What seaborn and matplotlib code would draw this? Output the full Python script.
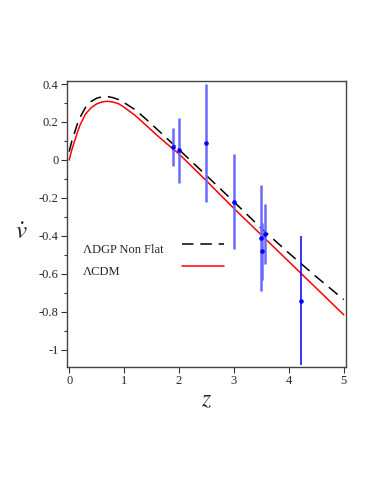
import numpy as np
import pandas as pd
import matplotlib
matplotlib.use("Agg")
import matplotlib.pyplot as plt
import seaborn as sns
from matplotlib.ticker import MultipleLocator, FuncFormatter

# ---- data ----
z_curve = [0.0, 0.05, 0.1, 0.15, 0.2, 0.3, 0.4, 0.5, 0.6, 0.7, 0.8, 0.9, 1.0,
           1.2, 1.4, 1.6, 1.8, 2.0, 2.5, 3.0, 3.5, 4.0, 4.5, 5.0]
v_lcdm = [0.0, 0.055, 0.1, 0.145, 0.185, 0.243, 0.275, 0.295, 0.306, 0.309, 0.305,
          0.296, 0.278, 0.235, 0.183, 0.13, 0.08, 0.032, -0.11, -0.255, -0.395,
          -0.535, -0.675, -0.815]
v_dgp = [0.044, 0.1, 0.145, 0.19, 0.225, 0.278, 0.308, 0.325, 0.333, 0.334, 0.328,
         0.318, 0.302, 0.265, 0.215, 0.162, 0.108, 0.055, -0.082, -0.22, -0.36,
         -0.49, -0.615, -0.735]

z_obs = [1.89, 2.00, 2.49, 3.00, 3.485, 3.515, 3.56, 4.23]
v_obs = [0.07, 0.05, 0.09, -0.22, -0.41, -0.48, -0.39, -0.74]
v_err = [0.10, 0.17, 0.31, 0.25, 0.28, 0.15, 0.16, 0.34]

labels = ["\u039bDGP Non Flat", "\u039bCDM"]
x_ticks = [0, 1, 2, 3, 4, 5]
y_ticks = [0.4, 0.2, 0, -0.2, -0.4, -0.6, -0.8, -1]

# ---- style ----
sns.set_style("ticks")
plt.rcParams["font.family"] = ["Liberation Serif", "DejaVu Serif"]
plt.rcParams["mathtext.fontset"] = "stix"
plt.rcParams["axes.unicode_minus"] = False

fig = plt.figure(figsize=(3.74, 4.84), dpi=100)
ax = fig.add_axes([0.179, 0.2417, 0.746, 0.591])

df = pd.DataFrame({"z": z_curve, "lcdm": v_lcdm, "dgp": v_dgp})
sns.lineplot(data=df, x="z", y="dgp", ax=ax, color="black", lw=1.1,
             dashes=False, label=labels[0])
ax.lines[-1].set_dashes((7.5, 4.5))
sns.lineplot(data=df, x="z", y="lcdm", ax=ax, color="#ff0000", lw=1.1,
             label=labels[1])

# error bars
ax.errorbar(z_obs[:-1], v_obs[:-1], yerr=v_err[:-1], fmt="o", ms=2.3,
            color="#0000ff", ecolor="#6a6aff", elinewidth=1.8, capsize=0)
ax.errorbar(z_obs[-1:], v_obs[-1:], yerr=v_err[-1:], fmt="o", ms=2.3,
            color="#0000ff", ecolor="#0000ff", elinewidth=1.1, capsize=0)

ax.set_xlim(-0.04, 5.04)
ax.set_ylim(-1.09, 0.416)
ax.set_xticks(x_ticks)
ax.set_yticks(y_ticks)
ax.yaxis.set_minor_locator(MultipleLocator(0.1))
ax.xaxis.set_major_formatter(FuncFormatter(lambda v, p: "%g" % v))
ax.yaxis.set_major_formatter(FuncFormatter(lambda v, p: "%g" % round(v, 2)))
ax.tick_params(axis="both", which="major", labelsize=9, length=4, width=0.8,
               color="#333333", direction="out", pad=2)
ax.tick_params(axis="y", which="minor", length=2.5, width=0.8, color="#333333")
for s in ax.spines.values():
    s.set_color("#444444")
    s.set_linewidth(1.0)

ax.set_xlabel("$z$", fontsize=17, labelpad=2)
ax.set_ylabel(r"$\dot{v}$", fontsize=18, rotation=0)
ax.yaxis.set_label_coords(-0.165, 0.43)

# legend: labels left, line samples to the right (Maple style)
handles = ax.lines[:2]
leg = ax.legend(handles, ["", ""], loc="upper left",
                bbox_to_anchor=(0.412, 0.445), frameon=False, fontsize=9,
                handlelength=3.4, handletextpad=0, borderpad=0,
                borderaxespad=0, labelspacing=0.75)
ax.text(0.057, 0.409, labels[0], transform=ax.transAxes, fontsize=9,
        va="center", ha="left")
ax.text(0.057, 0.332, labels[1], transform=ax.transAxes, fontsize=9,
        va="center", ha="left")

fig.savefig("out.png", dpi=100)
